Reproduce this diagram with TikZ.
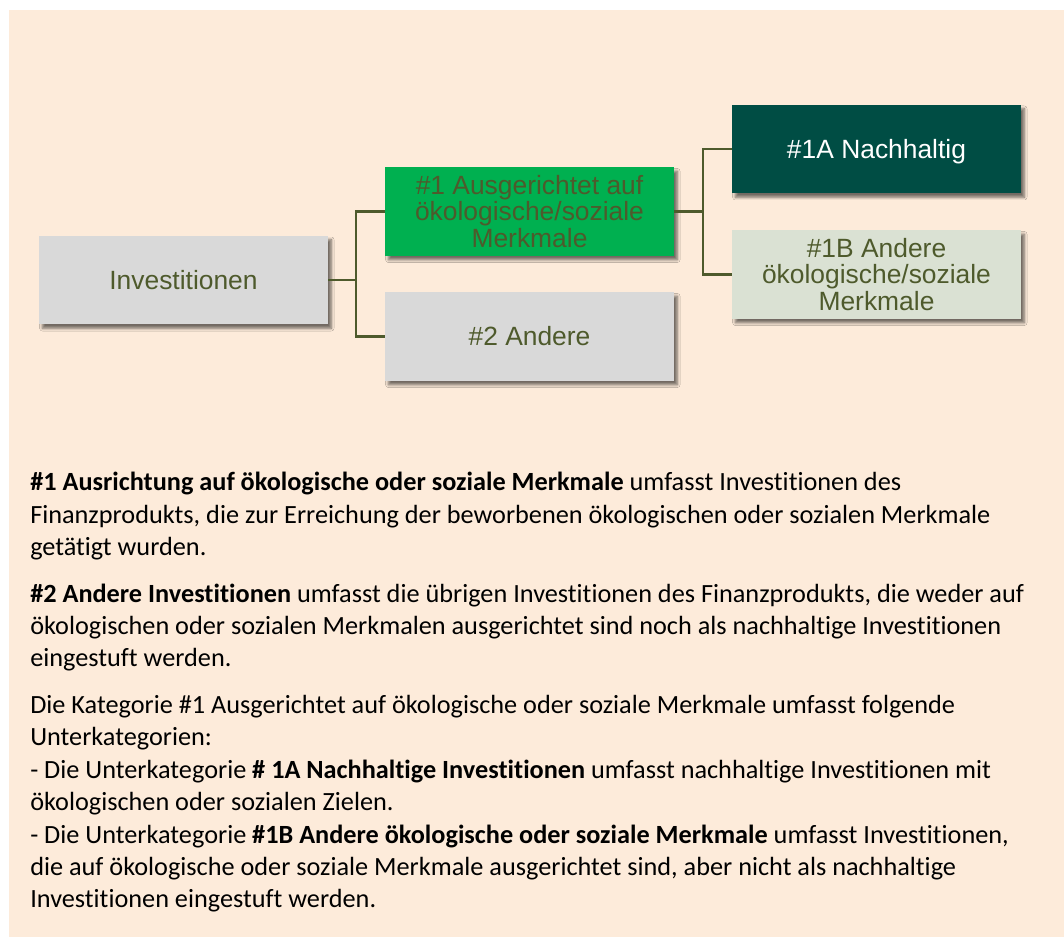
\documentclass[tikz,border=0pt]{standalone}
\usepackage{fontspec}
\setmainfont{Carlito}[Ligatures=NoCommon]
\newfontfamily\arialfont{Liberation Sans}
\usetikzlibrary{positioning,shadows.blur}

\definecolor{peach}{HTML}{FDEBDA}
\definecolor{investgray}{HTML}{D9D9D9}
\definecolor{mrkgreen}{HTML}{00B050}
\definecolor{darkteal}{HTML}{004D44}
\definecolor{palegreen}{HTML}{DAE1D3}
\definecolor{olivetext}{HTML}{4E5A2C}

\tikzset{
  catbox/.style={rectangle, minimum width=216.75pt, minimum height=66.5pt,
    inner sep=2pt, align=center, text=olivetext,
    font={\arialfont\fontsize{19.8}{20}\selectfont},
    blur shadow={shadow xshift=2.5pt, shadow yshift=-3pt,
      shadow blur radius=2pt, shadow blur steps=6, shadow opacity=55}},
  link/.style={draw=olivetext, line width=1.6pt},
  expl/.style={anchor=north west, inner sep=0pt, align=left,
    font={\fontsize{19.7}{24.3}\selectfont}}
}

\begin{document}
\begin{tikzpicture}[x=0.75pt,y=-0.75pt]
\useasboundingbox (0,0) rectangle (1064,937);
\fill[peach] (9,10) rectangle (1064,937);

% category tree
\node[catbox, fill=investgray] (inv) at (183.5,280) {Investitionen};
\node[catbox, fill=mrkgreen] (c1) at (529.5,211.5) {\#1 Ausgerichtet auf\\ökologische/soziale\\Merkmale};
\node[catbox, fill=investgray] (c2) at (529.5,336.5) {\#2 Andere};
\node[catbox, fill=darkteal, text=white, text depth=0pt] (c1a) at (876.5,149) {\#1A Nachhaltig};
\node[catbox, fill=palegreen] (c1b) at (876.5,274.5) {\#1B Andere\\ökologische/soziale\\Merkmale};

\draw[link] (inv.east) -- ++(28,0) |- (c1.west);
\draw[link] (inv.east) -- ++(28,0) |- (c2.west);
\draw[link] (c1.east) -- ++(29,0) |- (c1a.west);
\draw[link] (c1.east) -- ++(29,0) |- (c1b.west);

% explanations
\node[expl] (p1) at (30,472) {\textbf{\#1 Ausrichtung auf ökologische oder soziale Merkmale} umfasst Investitionen des\\
Finanzprodukts, die zur Erreichung der beworbenen ökologischen oder sozialen Merkmale\\
getätigt wurden.};
\node[expl] (p2) at (30,583.5) {\textbf{\#2 Andere Investitionen} umfasst die übrigen Investitionen des Finanzprodukts, die weder auf\\
ökologischen oder sozialen Merkmalen ausgerichtet sind noch als nachhaltige Investitionen\\
eingestuft werden.};
\node[expl] (p3) at (30,695) {Die Kategorie \#1 Ausgerichtet auf ökologische oder soziale Merkmale umfasst folgende\\
Unterkategorien:\\
- Die Unterkategorie \textbf{\# 1A Nachhaltige Investitionen} umfasst nachhaltige Investitionen mit\\
ökologischen oder sozialen Zielen.\\
- Die Unterkategorie \textbf{\#1B Andere ökologische oder soziale Merkmale} umfasst Investitionen,\\
die auf ökologische oder soziale Merkmale ausgerichtet sind, aber nicht als nachhaltige\\
Investitionen eingestuft werden.};
\end{tikzpicture}
\end{document}
